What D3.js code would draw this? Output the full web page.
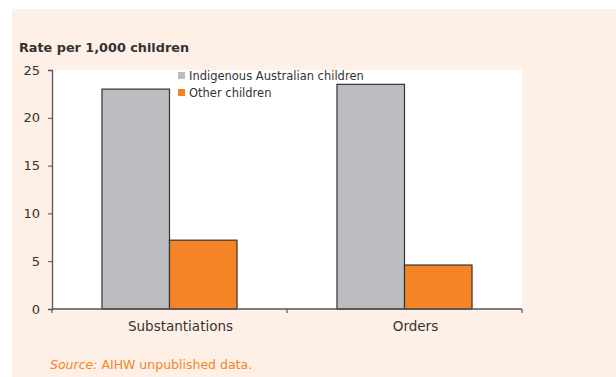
<!DOCTYPE html>
<html>
<head>
<meta charset="utf-8">
<script src="https://cdn.jsdelivr.net/npm/d3@7"></script>
<style>
  html, body { margin: 0; padding: 0; background: #ffffff; }
  svg { display: block; font-family: "DejaVu Sans", sans-serif; }
</style>
</head>
<body>
<svg id="chart" width="616" height="377"></svg>
<script>
// Child protection rates by Indigenous status
const categories = ["Substantiations", "Orders"];
const seriesNames = ["Indigenous Australian children", "Other children"];
const indigenousValues = [23.0, 23.5];
const otherValues = [7.2, 4.6];
const yTicks = [0, 5, 10, 15, 20, 25];
const colours = ["#bcbdc0", "#f58426"];

const svg = d3.select("#chart");
const W = 616, H = 377;
const margin = { left: 52, right: 94, top: 70, bottom: 68 };
const plotW = W - margin.left - margin.right;   // 470
const plotH = H - margin.top - margin.bottom;   // 239

// page panel
svg.append("rect").attr("x", 12).attr("y", 9).attr("width", W - 12).attr("height", H - 9)
  .attr("fill", "#fef0e7");

const g = svg.append("g").attr("transform", `translate(${margin.left},${margin.top})`);

g.append("rect").attr("width", plotW).attr("height", plotH).attr("fill", "#ffffff");

const x0 = d3.scaleBand().domain(categories).range([0, plotW]).padding(0);
const x1 = d3.scaleBand().domain(seriesNames)
  .range([0, x0.bandwidth()]).paddingOuter(0.74).paddingInner(0);
const y = d3.scaleLinear().domain([0, 25]).range([plotH, 0]);

const rows = categories.map((c, i) => ({
  cat: c,
  vals: [indigenousValues[i], otherValues[i]]
}));

const groups = g.selectAll(".grp").data(rows).join("g")
  .attr("transform", d => `translate(${x0(d.cat)},0)`);

groups.selectAll("rect").data(d => d.vals.map((v, k) => ({ v, k })))
  .join("rect")
  .attr("x", d => x1(seriesNames[d.k]))
  .attr("y", d => y(d.v))
  .attr("width", x1.bandwidth())
  .attr("height", d => plotH - y(d.v))
  .attr("fill", d => colours[d.k])
  .attr("stroke", "#333333")
  .attr("stroke-width", 1.2);

// y axis
const yAxis = g.append("g").call(d3.axisLeft(y).tickValues(yTicks).tickSize(4).tickPadding(8));
yAxis.select(".domain").attr("stroke", "#555").attr("stroke-width", 1.3);
yAxis.selectAll(".tick line").attr("stroke", "#555");
yAxis.selectAll("text").attr("font-size", 13).attr("fill", "#333")
  .attr("font-family", "DejaVu Sans, sans-serif");

// x axis with ticks at category boundaries
const xAxisG = g.append("g").attr("transform", `translate(0,${plotH})`);
xAxisG.append("line").attr("x1", 0).attr("x2", plotW).attr("stroke", "#555").attr("stroke-width", 1.3);
const bounds = [0].concat(categories.map(c => x0(c) + x0.bandwidth()));
xAxisG.selectAll(".bt").data(bounds).join("line")
  .attr("x1", d => d).attr("x2", d => d).attr("y1", 0).attr("y2", 4)
  .attr("stroke", "#555").attr("stroke-width", 1.2);
xAxisG.selectAll(".cl").data(categories).join("text")
  .attr("x", d => x0(d) + x0.bandwidth() / 2 + 11)
  .attr("y", 22)
  .attr("text-anchor", "middle")
  .attr("font-size", 13.5).attr("fill", "#333")
  .text(d => d);

// axis title
svg.append("text").attr("x", 19).attr("y", 52)
  .attr("font-size", 12.8).attr("font-weight", "bold").attr("fill", "#333")
  .text("Rate per 1,000 children");

// legend
const legend = svg.append("g").attr("transform", "translate(178,72)");
seriesNames.forEach((s, i) => {
  legend.append("rect").attr("x", 0).attr("y", i * 17).attr("width", 7).attr("height", 7)
    .attr("fill", colours[i]);
  legend.append("text").attr("x", 11).attr("y", i * 17 + 7.5)
    .attr("font-size", 11.5).attr("fill", "#333").text(s);
});

// source note
const src = svg.append("text").attr("x", 50).attr("y", 369)
  .attr("font-size", 12.5).attr("fill", "#f58426");
src.append("tspan").attr("font-style", "italic").text("Source:");
src.append("tspan").text(" AIHW unpublished data.");
</script>
</body>
</html>
